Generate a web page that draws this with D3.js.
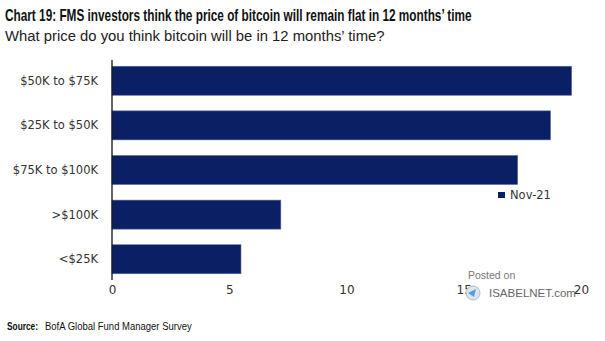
<!DOCTYPE html>
<html>
<head>
<meta charset="utf-8">
<script src="https://cdn.jsdelivr.net/npm/d3@7"></script>
<style>
  body { margin: 0; background: #fff; }
  svg { display: block; }
</style>
</head>
<body>
<div class="bar-chart"></div>
<script>
// survey answers, Nov-21, % of respondents
const categories = ["$50K to $75K", "$25K to $50K", "$75K to $100K", ">$100K", "<$25K"];
const values = [19.6, 18.7, 17.3, 7.2, 5.5];
const xTicks = [0, 5, 10, 15, 20];
const seriesName = "Nov-21";

const W = 605, H = 341;
const svg = d3.select(".bar-chart").append("svg")
    .attr("width", W).attr("height", H);

const font = "'Liberation Sans', sans-serif";

// condensed text: squeeze horizontally to a given width
function narrowText(x, y, width, size, weight, fill, str){
    const g = svg.append("g");
    const t = g.append("text")
        .attr("font-family", font).attr("font-weight", weight)
        .attr("font-size", size).attr("fill", fill)
        .text(str);
    const k = width / t.node().getComputedTextLength();
    g.attr("transform", `translate(${x},${y}) scale(${k},1)`);
    return t;
}

narrowText(5, 21, 467, 16, "bold", "#111",
    "Chart 19: FMS investors think the price of bitcoin  will remain flat in 12 months’ time");
narrowText(5, 41, 380, 15, "normal", "#222",
    "What price do you think bitcoin will be in 12 months’ time?");

let xScale = d3.scaleLinear().domain([0, 20]).range([112, 581]);
let yScale = d3.scaleBand().domain(categories).range([60, 280])
    .paddingInner(0.35).paddingOuter(0.14);

svg.selectAll(".bar")
    .data(categories)
    .enter()
    .append("rect")
    .attr("class", "bar")
    .attr("x", xScale(0))
    .attr("y", d => yScale(d))
    .attr("width", (d, i) => xScale(values[i]) - xScale(0))
    .attr("height", yScale.bandwidth())
    .attr("fill", "#0b1f64")
    .attr("stroke", "#5a6a9a")
    .attr("stroke-width", 0.6);

// category labels
svg.selectAll(".cat")
    .data(categories)
    .enter()
    .append("text")
    .attr("class", "cat")
    .attr("x", 98)
    .attr("y", d => yScale(d) + yScale.bandwidth() / 2 + 4)
    .attr("text-anchor", "end")
    .attr("font-family", "'DejaVu Sans', sans-serif")
    .attr("font-size", 11.5)
    .attr("fill", "#333")
    .text(d => d);

// vertical axis line
svg.append("line")
    .attr("x1", xScale(0)).attr("x2", xScale(0))
    .attr("y1", 60).attr("y2", 280)
    .attr("stroke", "#111").attr("stroke-width", 1.3);

// x tick labels
let xAxis = d3.axisBottom(xScale).tickValues(xTicks).tickSize(0).tickPadding(0);
const gx = svg.append("g")
    .attr("transform", "translate(0,285)")
    .call(xAxis);
gx.select(".domain").remove();
gx.selectAll("text")
    .attr("font-family", "'DejaVu Sans', sans-serif")
    .attr("font-size", 12)
    .attr("fill", "#333");

// legend
svg.append("rect")
    .attr("x", 498).attr("y", 192).attr("width", 7).attr("height", 6)
    .attr("fill", "#0b1f64");
svg.append("text")
    .attr("x", 510).attr("y", 199)
    .attr("font-family", "'DejaVu Sans', sans-serif")
    .attr("font-size", 11.5).attr("fill", "#333")
    .text(seriesName);

// watermark
svg.append("text")
    .attr("x", 468).attr("y", 279)
    .attr("font-family", font)
    .attr("font-size", 10.5).attr("fill", "#777")
    .text("Posted on");
svg.append("circle")
    .attr("cx", 473).attr("cy", 293).attr("r", 7)
    .attr("fill", "#dfe3ea").attr("stroke", "#b5bcc8");
svg.append("path")
    .attr("d", "M468,293 L476,289 L474,297 Z")
    .attr("fill", "#4aa3df");
svg.append("text")
    .attr("x", 489).attr("y", 297)
    .attr("font-family", font)
    .attr("font-size", 11.5).attr("fill", "#666")
    .text("ISABELNET.com");

// source
narrowText(7, 330, 31, 10.5, "bold", "#111", "Source:");
narrowText(45, 330, 147, 10.5, "normal", "#111", "BofA Global Fund Manager Survey");
</script>
</body>
</html>
